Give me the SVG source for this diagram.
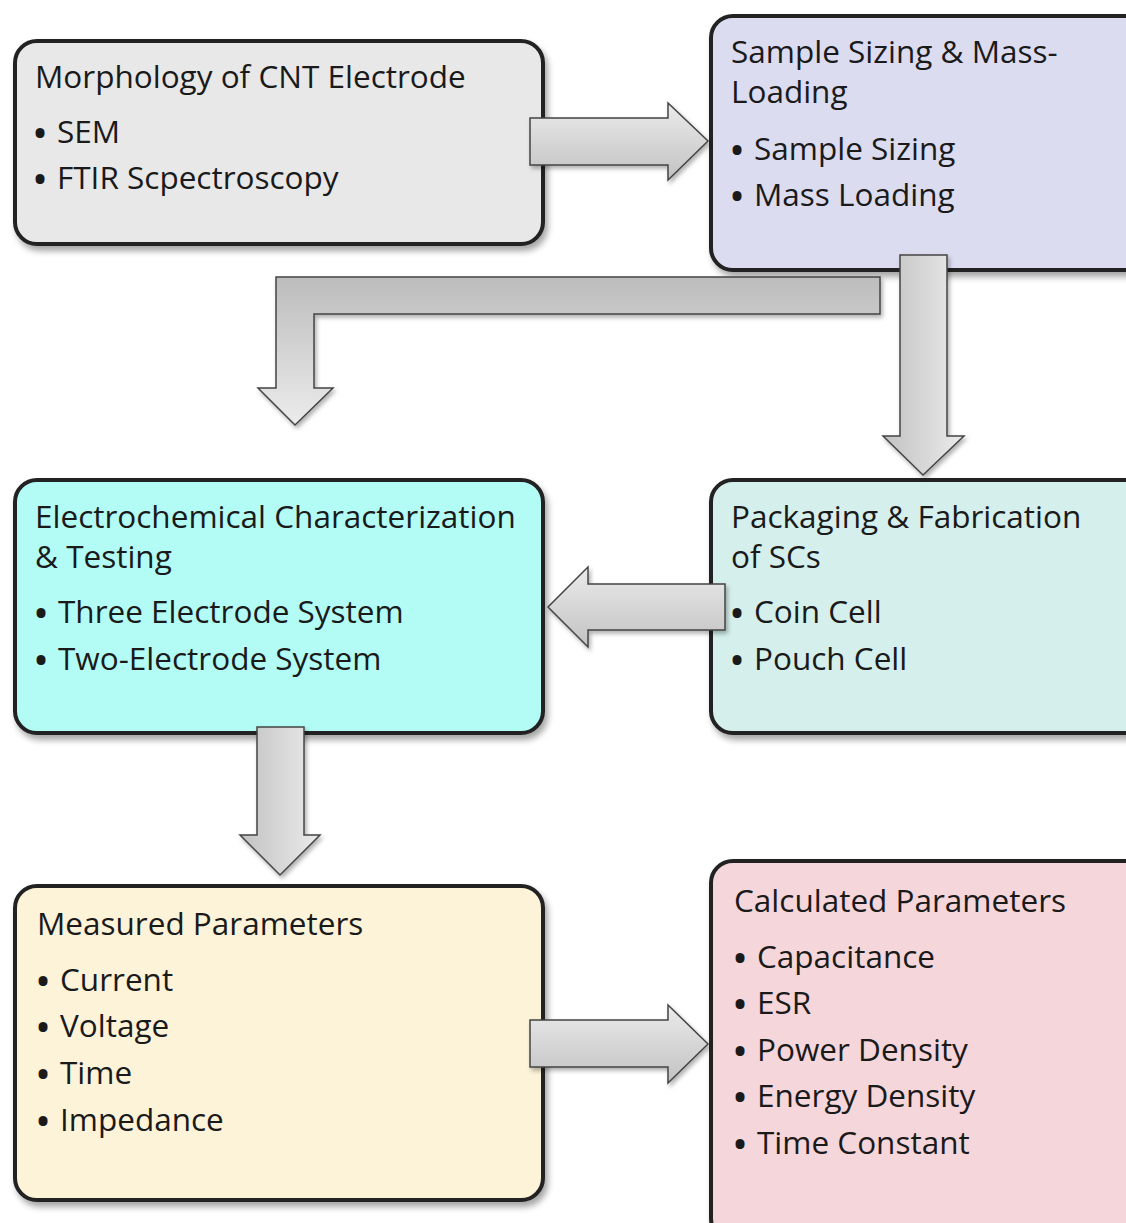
<svg xmlns="http://www.w3.org/2000/svg" width="1126" height="1223" viewBox="0 0 1126 1223">
<defs>
<filter id="sh" x="-10%" y="-10%" width="125%" height="130%">
<feDropShadow dx="3" dy="5" stdDeviation="3" flood-color="#000" flood-opacity="0.35"/>
</filter>
<filter id="ash" x="-10%" y="-10%" width="130%" height="130%">
<feDropShadow dx="2" dy="3" stdDeviation="2" flood-color="#000" flood-opacity="0.3"/>
</filter>
<linearGradient id="gH" x1="0" y1="0" x2="0" y2="1">
<stop offset="0" stop-color="#ebebeb"/><stop offset="1" stop-color="#c2c2c2"/>
</linearGradient>
<linearGradient id="gV" x1="0" y1="0" x2="1" y2="0">
<stop offset="0" stop-color="#c2c2c2"/><stop offset="1" stop-color="#ebebeb"/>
</linearGradient>
<linearGradient id="gB" gradientUnits="userSpaceOnUse" x1="0" y1="277" x2="0" y2="425">
<stop offset="0" stop-color="#bcbcbc"/><stop offset="1" stop-color="#ececec"/>
</linearGradient>
</defs>
<style>
.box{stroke:#222;stroke-width:4;filter:url(#sh)}
.arr{stroke:#444;stroke-width:1.5;stroke-linejoin:miter;filter:url(#ash)}
text{font-family:"Open Sans","Noto Sans",sans-serif;font-size:31.5px;fill:#1a1a1a}
.b{font-size:32px;font-weight:700}
</style>
<rect width="1126" height="1223" fill="#fff"/>
<g id="n1">
<rect class="box" x="15" y="41" width="528" height="203" rx="22" fill="#e8e8e8"/>
<text x="35" y="88">Morphology of CNT Electrode</text>
<text y="143"><tspan class="b" x="34" dy="2">•</tspan><tspan x="57" dy="-2">SEM</tspan></text>
<text y="189"><tspan class="b" x="34" dy="2">•</tspan><tspan x="57" dy="-2">FTIR Scpectroscopy</tspan></text>
</g>
<g id="n2">
<rect class="box" x="711" y="16" width="440" height="254" rx="22" fill="#dcdcf0"/>
<text x="731" y="63">Sample Sizing &amp; Mass-</text>
<text x="731" y="103">Loading</text>
<text y="160"><tspan class="b" x="731" dy="2">•</tspan><tspan x="754" dy="-2">Sample Sizing</tspan></text>
<text y="206"><tspan class="b" x="731" dy="2">•</tspan><tspan x="754" dy="-2">Mass Loading</tspan></text>
</g>
<g id="n3">
<rect class="box" x="15" y="480" width="528" height="253" rx="22" fill="#b3fcf6"/>
<text x="35" y="528">Electrochemical Characterization</text>
<text x="35" y="568">&amp; Testing</text>
<text y="623"><tspan class="b" x="35" dy="2">•</tspan><tspan x="58" dy="-2">Three Electrode System</tspan></text>
<text y="670"><tspan class="b" x="35" dy="2">•</tspan><tspan x="58" dy="-2">Two-Electrode System</tspan></text>
</g>
<g id="n4">
<rect class="box" x="711" y="480" width="440" height="253" rx="22" fill="#d5efec"/>
<text x="731" y="528">Packaging &amp; Fabrication</text>
<text x="731" y="568">of SCs</text>
<text y="623"><tspan class="b" x="731" dy="2">•</tspan><tspan x="754" dy="-2">Coin Cell</tspan></text>
<text y="670"><tspan class="b" x="731" dy="2">•</tspan><tspan x="754" dy="-2">Pouch Cell</tspan></text>
</g>
<g id="n5">
<rect class="box" x="15" y="886" width="528" height="314" rx="22" fill="#fdf3d9"/>
<text x="37" y="935">Measured Parameters</text>
<text y="991"><tspan class="b" x="37" dy="2">•</tspan><tspan x="60" dy="-2">Current</tspan></text>
<text y="1037"><tspan class="b" x="37" dy="2">•</tspan><tspan x="60" dy="-2">Voltage</tspan></text>
<text y="1084"><tspan class="b" x="37" dy="2">•</tspan><tspan x="60" dy="-2">Time</tspan></text>
<text y="1131"><tspan class="b" x="37" dy="2">•</tspan><tspan x="60" dy="-2">Impedance</tspan></text>
</g>
<g id="n6">
<rect class="box" x="711" y="861" width="440" height="380" rx="22" fill="#f5d6da"/>
<text x="734" y="912">Calculated Parameters</text>
<text y="968"><tspan class="b" x="734" dy="2">•</tspan><tspan x="757" dy="-2">Capacitance</tspan></text>
<text y="1014"><tspan class="b" x="734" dy="2">•</tspan><tspan x="757" dy="-2">ESR</tspan></text>
<text y="1061"><tspan class="b" x="734" dy="2">•</tspan><tspan x="757" dy="-2">Power Density</tspan></text>
<text y="1107"><tspan class="b" x="734" dy="2">•</tspan><tspan x="757" dy="-2">Energy Density</tspan></text>
<text y="1154"><tspan class="b" x="734" dy="2">•</tspan><tspan x="757" dy="-2">Time Constant</tspan></text>
</g>
<g id="connectors">
<path class="arr" fill="url(#gH)" d="M530,118 H668 V103 L708,141 L668,180 V165 H530 Z"/>
<path class="arr" fill="url(#gB)" d="M880,277 V314 H314 V388 H333 L295,425 L258,388 H276 V277 Z"/>
<path class="arr" fill="url(#gV)" d="M900,255 H947 V436 H964 L923,475 L883,436 H900 Z"/>
<path class="arr" fill="url(#gH)" d="M725,584 V630 H588 V647 L548,607 L588,567 V584 Z"/>
<path class="arr" fill="url(#gV)" d="M257,727 H304 V835 H320 L280,875 L240,835 H257 Z"/>
<path class="arr" fill="url(#gH)" d="M530,1020 H668 V1005 L708,1044 L668,1083 V1067 H530 Z"/>
</g>
</svg>
